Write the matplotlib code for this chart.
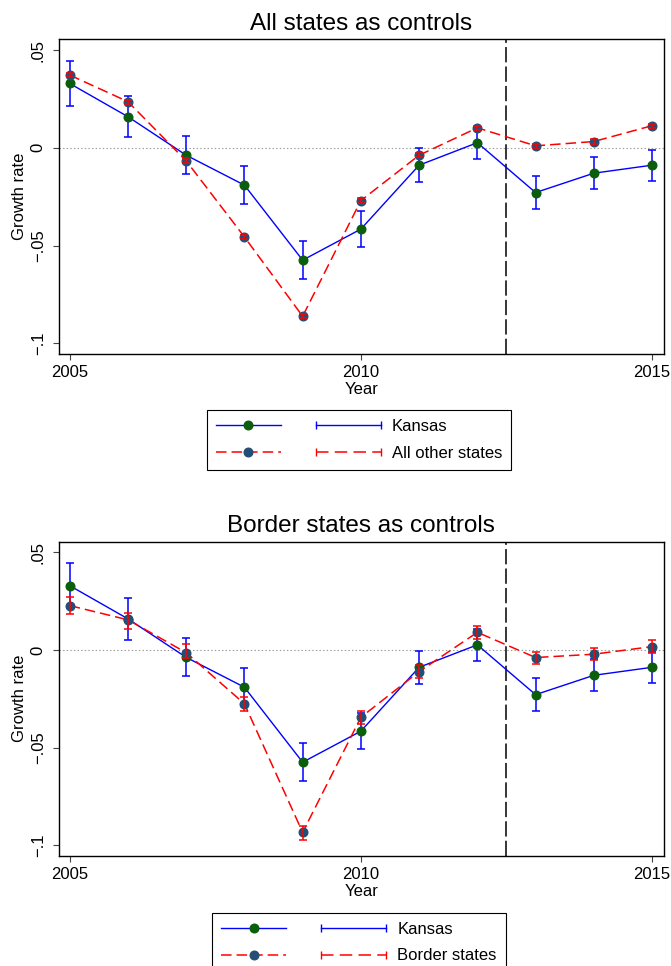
import matplotlib
matplotlib.use("Agg")
import matplotlib.pyplot as plt
from matplotlib.lines import Line2D
from matplotlib.legend_handler import HandlerTuple, HandlerLine2D

plt.rcParams['font.family'] = ['Liberation Sans', 'DejaVu Sans']
plt.rcParams['lines.scale_dashes'] = False

# ---------------------------------------------------------------- data
years = list(range(2005, 2016))

kansas = [0.0329, 0.0159, -0.0038, -0.0191, -0.0575, -0.0416, -0.0089, 0.0026, -0.0229, -0.0130, -0.0089]
kansas_lo = [0.0213, 0.0053, -0.0135, -0.0288, -0.0672, -0.0507, -0.0177, -0.0058, -0.0311, -0.0212, -0.0171]
kansas_hi = [0.0444, 0.0265, 0.0060, -0.0092, -0.0478, -0.0324, -0.0003, 0.0108, -0.0143, -0.0046, -0.0009]

others = [0.0372, 0.0236, -0.0067, -0.0456, -0.0862, -0.0270, -0.0038, 0.0102, 0.0010, 0.0032, 0.0113]
others_lo = [0.0361, 0.0225, -0.0078, -0.0467, -0.0873, -0.0281, -0.0049, 0.0091, -0.0001, 0.0021, 0.0102]
others_hi = [0.0383, 0.0247, -0.0056, -0.0445, -0.0851, -0.0259, -0.0027, 0.0113, 0.0021, 0.0043, 0.0124]

border = [0.0227, 0.0154, -0.0014, -0.0276, -0.0934, -0.0345, -0.0111, 0.0090, -0.0039, -0.0022, 0.0017]
border_lo = [0.0184, 0.0109, -0.0043, -0.0312, -0.0971, -0.0380, -0.0145, 0.0058, -0.0072, -0.0053, -0.0014]
border_hi = [0.0273, 0.0191, 0.0030, -0.0242, -0.0903, -0.0311, -0.0077, 0.0123, -0.0009, 0.0009, 0.0050]

policy_year = 2012.5
x_ticks = [2005, 2010, 2015]
y_ticks = [-0.1, -0.05, 0, 0.05]
y_tick_labels = ['\u2212.1', '\u2212.05', '0', '.05']

# ---------------------------------------------------------------- style
KS_LINE = '#0000ff'
KS_MARK = '#0b5e0b'
CMP_LINE = '#ff0000'
CMP_MARK = '#254e76'
RED_DASH = (0, (7.6, 3.6))
W, H = 671, 966


def errs(v, lo, hi):
    return [[a - b for a, b in zip(v, lo)], [b - a for a, b in zip(v, hi)]]


def panel(ax, title, cmp_vals, cmp_lo, cmp_hi, cmp_label, legend_top):
    ax.axhline(0, color='#9a9a9a', lw=0.8, ls=(0, (1, 1.6)), zorder=0.5)
    ax.axvline(policy_year, color='black', lw=1.1, ls=(0, (11, 3)), zorder=1)

    ax.plot(years, kansas, color=KS_LINE, lw=1.0, marker='o', ms=6.2,
            mfc=KS_MARK, mec=KS_MARK, zorder=3)
    ax.errorbar(years, kansas, yerr=errs(kansas, kansas_lo, kansas_hi), fmt='none',
                ecolor=KS_LINE, elinewidth=1.1, capsize=3, capthick=1.1, zorder=2.5)
    ax.plot(years, cmp_vals, color=CMP_LINE, lw=1.1, ls=RED_DASH, marker='o', ms=6.2,
            mfc=CMP_MARK, mec=CMP_MARK, zorder=4)
    ax.errorbar(years, cmp_vals, yerr=errs(cmp_vals, cmp_lo, cmp_hi), fmt='none',
                ecolor=CMP_LINE, elinewidth=1.1, capsize=3, capthick=1.1, zorder=5)

    ax.set_xlim(2004.811, 2015.2)
    ax.set_ylim(-0.1055, 0.0555)
    ax.set_xticks(x_ticks)
    ax.set_xticklabels([str(t) for t in x_ticks])
    ax.set_yticks(y_ticks)
    ax.set_yticklabels(y_tick_labels, rotation=90, va='center')
    ax.tick_params(axis='both', labelsize=12, length=4.3, width=0.8, color='#444444')
    ax.tick_params(axis='x', pad=3.5)
    ax.tick_params(axis='y', pad=5)
    for s in ax.spines.values():
        s.set_linewidth(1.0)
        s.set_color('black')
    ax.set_xlabel('Year', fontsize=12, labelpad=1.5)
    ax.set_ylabel('Growth rate', fontsize=12, labelpad=3)
    ax.set_title(title, fontsize=17.5, pad=7)

    k_line = Line2D([], [], color=KS_LINE, lw=1.0, marker='o', ms=6.2, mfc=KS_MARK, mec=KS_MARK)
    k_cap = Line2D([], [], color=KS_LINE, lw=1.0, marker='|', ms=6, mew=1.0)
    c_line = Line2D([], [], color=CMP_LINE, lw=1.1, ls=RED_DASH, marker='o', ms=6.2,
                    mfc=CMP_MARK, mec=CMP_MARK)
    c_cap = Line2D([], [], color=CMP_LINE, lw=1.1, ls=(0, (9, 4.5)), marker='|', ms=6, mew=1.0)
    hmap = {tuple: HandlerTuple(ndivide=None, pad=2.1),
            k_cap: HandlerLine2D(numpoints=2, marker_pad=0),
            c_cap: HandlerLine2D(numpoints=2, marker_pad=0)}
    leg = ax.figure.legend([(k_line, k_cap), (c_line, c_cap)], ['Kansas', cmp_label],
                           handler_map=hmap, loc='upper center',
                           bbox_to_anchor=(359 / W, 1 - legend_top / H),
                           fontsize=12, frameon=True, fancybox=False, framealpha=1,
                           edgecolor='black', borderpad=0.55, labelspacing=0.68,
                           handlelength=9.9, handletextpad=0.64, borderaxespad=0)
    leg.get_frame().set_linewidth(0.8)


fig = plt.figure(figsize=(W / 100, H / 100), dpi=100)
left, right = 58.7, 663.7
ax1 = fig.add_axes([left / W, 1 - 354 / H, (right - left) / W, (354 - 39.3) / H])
ax2 = fig.add_axes([left / W, 1 - 856 / H, (right - left) / W, (856 - 541.5) / H])

panel(ax1, 'All states as controls', others, others_lo, others_hi, 'All other states', 410)
panel(ax2, 'Border states as controls', border, border_lo, border_hi, 'Border states', 913)

fig.savefig('out.png', dpi=100)
